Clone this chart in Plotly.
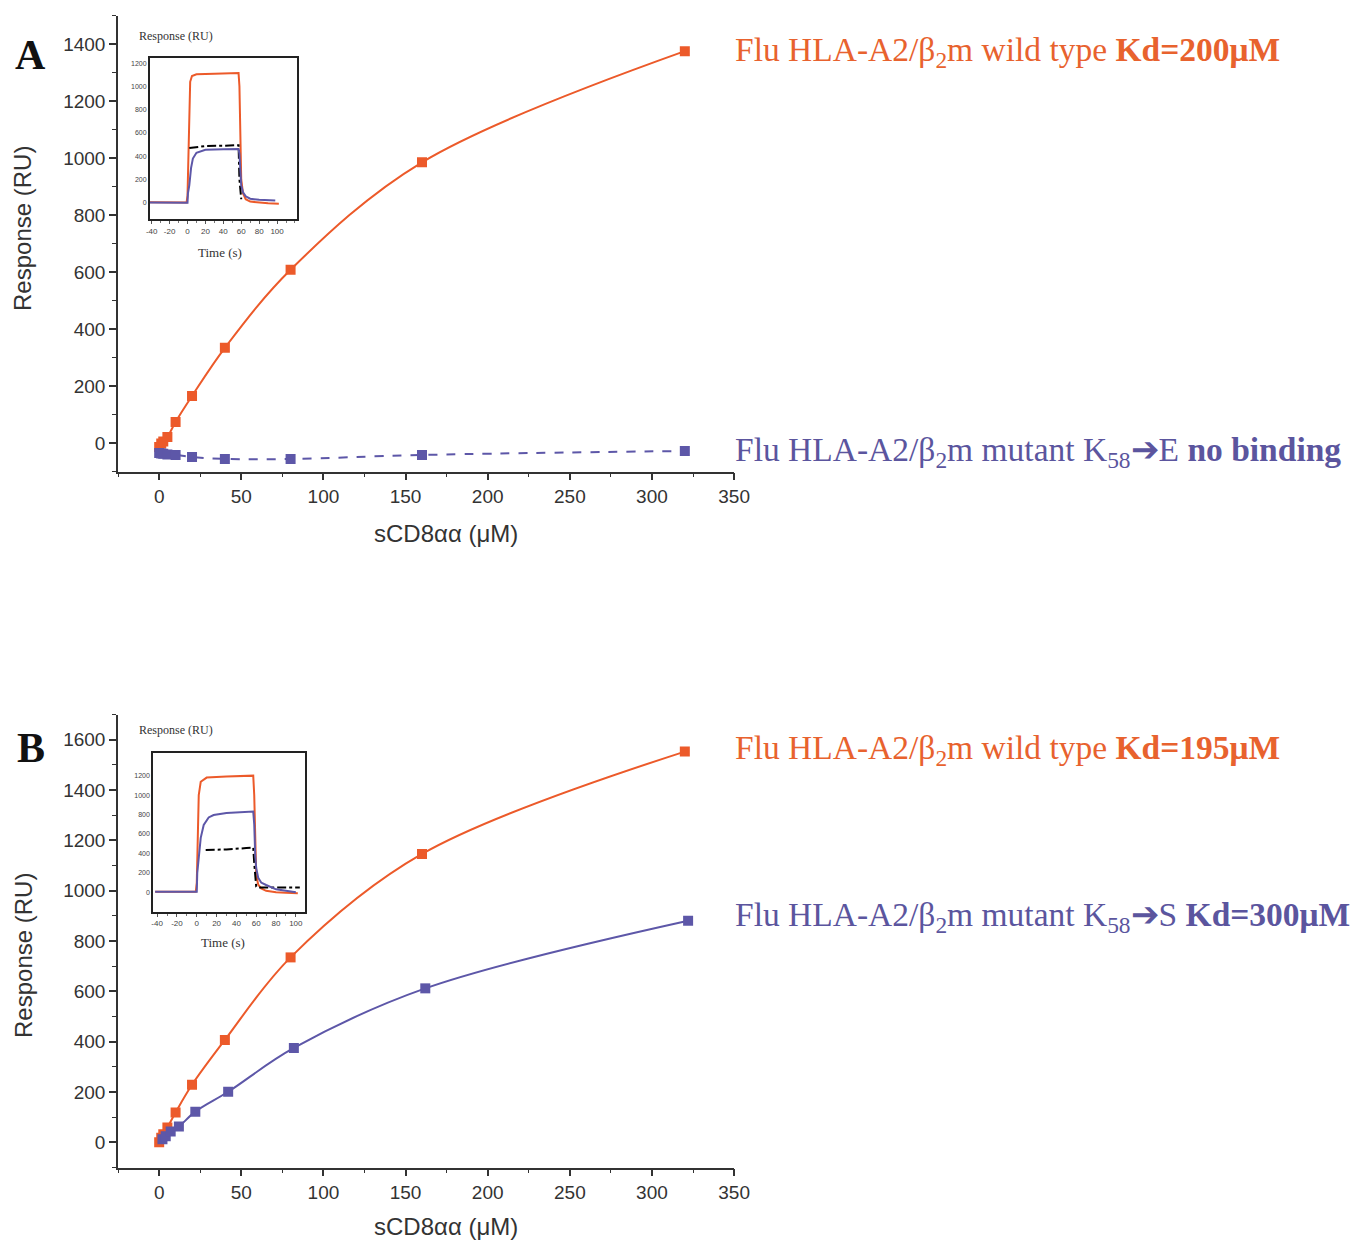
import plotly.graph_objects as go

W, H = 1351, 1240

# ---------------- data ----------------
# Panel A: binding curves
a_wt_x = [0, 1.25, 2.5, 5, 10, 20, 40, 80, 160, 320]
a_wt_y = [-14, -2, 5, 21, 74, 165, 334, 608, 985, 1375]
a_mut_x = [0, 1.25, 2.5, 5, 10, 20, 40, 80, 160, 320]
a_mut_y = [-35, -37, -38, -40, -42, -49, -56, -56, -42, -28]

# Panel B: binding curves
b_wt_x = [0, 1.25, 2.5, 5, 10, 20, 40, 80, 160, 320]
b_wt_y = [0, 18, 32, 59, 119, 229, 407, 735, 1146, 1553]
b_mut_x = [2, 4, 7, 12, 22, 42, 82, 162, 322]
b_mut_y = [12, 24, 43, 63, 122, 201, 375, 612, 881]

# Inset A sensorgrams (time s, response RU)
ia_or_t = [-42, -20, -1, 0, 1, 2, 3, 5, 10, 30, 57, 58, 59, 60, 62, 65, 70, 80, 90, 102]
ia_or_y = [5, 5, 3, 60, 500, 900, 1040, 1090, 1105, 1110, 1115, 1000, 500, 200, 80, 30, 10, 0, -5, -8]
ia_bl_t = [-42, -20, 0, 0.5, 2, 4, 6, 10, 20, 40, 57, 58, 59, 60, 62, 65, 70, 80, 98]
ia_bl_y = [3, 0, 0, 80, 150, 300, 380, 430, 455, 460, 462, 420, 250, 150, 90, 55, 35, 25, 20]
ia_bk_t = [2, 20, 40, 57, 58, 59, 60]
ia_bk_y = [470, 488, 490, 495, 200, 80, 30]

# Inset B sensorgrams
ib_or_t = [-42, -20, -1, 0, 1, 2, 4, 10, 30, 57, 58, 59, 60, 62, 65, 70, 80, 90, 102]
ib_or_y = [5, 5, 5, 100, 700, 1000, 1137, 1180, 1190, 1200, 1000, 500, 178, 80, 40, 15, 0, -5, -10]
ib_bl_t = [-42, -20, 0, 0.5, 2, 4, 7, 12, 17, 30, 57, 58, 59, 60, 62, 65, 70, 80, 100]
ib_bl_y = [5, 5, 5, 200, 384, 560, 693, 770, 795, 815, 830, 700, 384, 250, 150, 100, 75, 30, 0]
ib_bk_t = [9, 30, 50, 57, 58, 59, 60, 62, 70, 90, 104]
ib_bk_y = [436, 440, 455, 460, 300, 120, 58, 48, 48, 48, 48]

x_ticks = [0, 50, 100, 150, 200, 250, 300, 350]
inset_x_ticks = [-40, -20, 0, 20, 40, 60, 80, 100]
inset_x_labels = ["-40", "-20", "0", "20", "40", "60", "80", "100"]
inset_y_ticks = [0, 200, 400, 600, 800, 1000, 1200]

ORANGE = "#EC5A2A"
BLUE = "#5D57A8"
T_ORANGE = "#E8622E"
T_BLUE = "#5B559E"
AXC = "#333333"


def px(x):
    # horizontal pixel -> paper fraction (with a small correction for the capture)
    return ((x - 3) / 0.986) / W


def py(y):
    return 1 - y / H


fig = go.Figure()

# main traces
fig.add_trace(go.Scatter(x=a_wt_x, y=a_wt_y, mode="lines+markers", line=dict(color=ORANGE, width=2, shape="spline"),
                         marker=dict(symbol="square", size=10, color=ORANGE), xaxis="x", yaxis="y"))
fig.add_trace(go.Scatter(x=a_mut_x, y=a_mut_y, mode="lines+markers", line=dict(color=BLUE, width=2, dash="dash", shape="spline"),
                         marker=dict(symbol="square", size=10, color=BLUE), xaxis="x", yaxis="y"))
fig.add_trace(go.Scatter(x=b_wt_x, y=b_wt_y, mode="lines+markers", line=dict(color=ORANGE, width=2, shape="spline"),
                         marker=dict(symbol="square", size=10, color=ORANGE), xaxis="x2", yaxis="y2"))
fig.add_trace(go.Scatter(x=b_mut_x, y=b_mut_y, mode="lines+markers", line=dict(color=BLUE, width=2, shape="spline"),
                         marker=dict(symbol="square", size=10, color=BLUE), xaxis="x2", yaxis="y2"))

# inset traces
fig.add_trace(go.Scatter(x=ia_or_t, y=ia_or_y, mode="lines", line=dict(color=ORANGE, width=2), xaxis="x3", yaxis="y3"))
fig.add_trace(go.Scatter(x=ia_bk_t, y=ia_bk_y, mode="lines", line=dict(color="black", width=2, dash="dashdot"), xaxis="x3", yaxis="y3"))
fig.add_trace(go.Scatter(x=ia_bl_t, y=ia_bl_y, mode="lines", line=dict(color=BLUE, width=2), xaxis="x3", yaxis="y3"))
fig.add_trace(go.Scatter(x=ib_or_t, y=ib_or_y, mode="lines", line=dict(color=ORANGE, width=2), xaxis="x4", yaxis="y4"))
fig.add_trace(go.Scatter(x=ib_bk_t, y=ib_bk_y, mode="lines", line=dict(color="black", width=2, dash="dashdot"), xaxis="x4", yaxis="y4"))
fig.add_trace(go.Scatter(x=ib_bl_t, y=ib_bl_y, mode="lines", line=dict(color=BLUE, width=2), xaxis="x4", yaxis="y4"))

tickfont = dict(family="Liberation Sans, Arial", size=19, color=AXC)


def main_x(anchor):
    return dict(domain=[px(117.2), px(733.7)], range=[-25, 350], anchor=anchor,
                tickmode="array", tickvals=x_ticks, ticks="outside", ticklen=7, tickwidth=1.5, tickcolor=AXC,
                minor=dict(ticks="outside", ticklen=4, tickwidth=1.2, tickcolor=AXC, tickmode="linear", tick0=-25, dtick=25),
                showline=True, linecolor=AXC, linewidth=1.8, showgrid=False, zeroline=False, tickfont=tickfont)


def main_y(anchor, dom, rng, dt):
    return dict(domain=dom, range=rng, anchor=anchor, tickmode="linear", tick0=0, dtick=dt,
                ticks="outside", ticklen=7, tickwidth=1.5, tickcolor=AXC,
                minor=dict(ticks="outside", ticklen=4, tickwidth=1.2, tickcolor=AXC, tickmode="linear", tick0=0, dtick=dt / 2),
                showline=True, linecolor=AXC, linewidth=1.8, showgrid=False, zeroline=False, tickfont=tickfont)


def inset_x(anchor, dom, rng, fs):
    return dict(domain=dom, range=rng, anchor=anchor, tickmode="array", tickvals=inset_x_ticks, ticktext=inset_x_labels,
                ticks="outside", ticklen=3, tickwidth=1, tickcolor="#555",
                minor=dict(ticks="outside", ticklen=2, tickwidth=1, tickcolor="#777", tickmode="linear", tick0=-40, dtick=10),
                showline=True, mirror=True, linecolor="#222", linewidth=1.8, showgrid=False, zeroline=False,
                tickfont=dict(family="Liberation Sans, Arial", size=fs, color="#444"))


def inset_y(anchor, dom, rng, fs):
    return dict(domain=dom, range=rng, anchor=anchor, tickmode="array", tickvals=inset_y_ticks,
                ticks="", showline=True, mirror=True, linecolor="#222", linewidth=1.8, showgrid=False,
                zeroline=False, tickfont=dict(family="Liberation Sans, Arial", size=fs, color="#444"))


fig.update_layout(
    width=W, height=H, margin=dict(l=0, r=0, t=0, b=0),
    paper_bgcolor="white", plot_bgcolor="rgba(0,0,0,0)", showlegend=False,
    xaxis=main_x("y"),
    yaxis=main_y("x", [py(471.5), py(15.5)], [-100, 1500], 200),
    xaxis2=main_x("y2"),
    yaxis2=main_y("x2", [py(1167.5), py(714.6)], [-100, 1700], 200),
    xaxis3=inset_x("y3", [px(149), px(296)], [-42, 122], 8),
    yaxis3=inset_y("x3", [py(219), py(58)], [-140, 1245], 7),
    xaxis4=inset_x("y4", [px(152.3), px(304)], [-44, 109], 8),
    yaxis4=inset_y("x4", [py(911.7), py(752.7)], [-200, 1436], 7),
)

ann = []
serif = "Liberation Serif, Times New Roman"
sans = "Liberation Sans, Arial"


def add_text(x, y, text, size, color, family, xanchor="center", yanchor="middle", angle=0):
    ann.append(dict(xref="paper", yref="paper", x=px(x), y=py(y), text=text, showarrow=False,
                    font=dict(family=family, size=size, color=color), xanchor=xanchor, yanchor=yanchor,
                    textangle=angle))


# panel letters
add_text(30, 55, "<b>A</b>", 42, "#111", serif)
add_text(30, 748, "<b>B</b>", 42, "#111", serif)

# axis titles
add_text(22, 228, "Response (RU)", 24, AXC, sans, angle=-90)
add_text(22, 955, "Response (RU)", 24, AXC, sans, angle=-90)
add_text(445, 533, "sCD8αα (μM)", 24, AXC, sans)
add_text(445, 1226, "sCD8αα (μM)", 24, AXC, sans)

# inset labels
add_text(175, 36, "Response (RU)", 12, "#333", serif)
add_text(219, 252, "Time (s)", 13, "#333", serif)
add_text(175, 730, "Response (RU)", 12, "#333", serif)
add_text(222, 942, "Time (s)", 13, "#333", serif)

# series labels
add_text(733, 52, "Flu HLA-A2/β<sub>2</sub>m wild type <b>Kd=200μM</b>", 33.5, T_ORANGE, serif, xanchor="left")
add_text(733, 452, "Flu HLA-A2/β<sub>2</sub>m mutant K<sub>58</sub>➔E <b>no binding</b>", 33.5, T_BLUE, serif, xanchor="left")
add_text(733, 750, "Flu HLA-A2/β<sub>2</sub>m wild type <b>Kd=195μM</b>", 33.5, T_ORANGE, serif, xanchor="left")
add_text(733, 917, "Flu HLA-A2/β<sub>2</sub>m mutant K<sub>58</sub>➔S <b>Kd=300μM</b>", 33.5, T_BLUE, serif, xanchor="left")

fig.update_layout(annotations=ann)

fig.write_html("out.html", config={"displayModeBar": False},
               post_script="document.body.style.margin='0';document.body.style.overflow='hidden';")
